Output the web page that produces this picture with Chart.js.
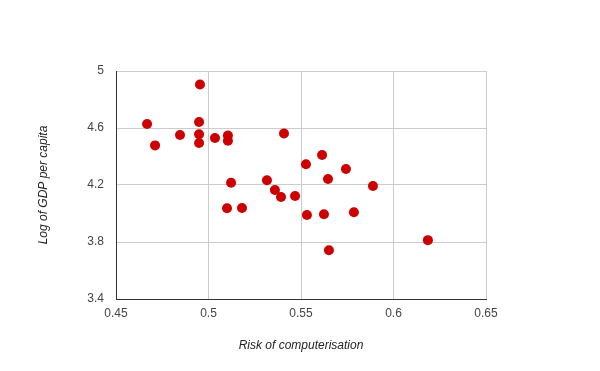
<!DOCTYPE html>
<html>
<head>
<meta charset="utf-8">
<script src="https://cdn.jsdelivr.net/npm/chart.js@4/dist/chart.umd.min.js"></script>
<style>
html,body{margin:0;padding:0;background:#fff;}
#wrap{width:600px;height:371px;}
</style>
</head>
<body>
<div id="wrap"><canvas id="c" width="600" height="371"></canvas></div>
<script>
const riskValues = [0.4668,0.4711,0.4846,0.4949,0.4949,0.4949,0.4954,0.5035,0.5105,0.5105,0.5122,0.5100,0.5181,0.5316,0.5359,0.5392,0.5408,0.5468,0.5527,0.5532,0.5614,0.5624,0.5646,0.5651,0.5743,0.5786,0.5889,0.6186];
const logGdpValues = [4.628,4.478,4.551,4.642,4.556,4.495,4.905,4.530,4.547,4.511,4.216,4.037,4.039,4.233,4.165,4.116,4.562,4.123,4.345,3.989,4.410,3.995,4.242,3.742,4.312,4.009,4.193,3.813];
const xTickLabels = ['0.45','0.5','0.55','0.6','0.65'];
const yTickLabels = ['3.4','3.8','4.2','4.6','5'];
const xTitle = 'Risk of computerisation';
const yTitle = 'Log of GDP per capita';

const points = riskValues.map((x, i) => ({x: x, y: logGdpValues[i]}));

new Chart(document.getElementById('c'), {
  type: 'scatter',
  data: {
    datasets: [{
      data: points,
      backgroundColor: '#cc0000',
      borderColor: '#cc0000',
      borderWidth: 0,
      pointRadius: 5,
      pointHoverRadius: 5
    }]
  },
  options: {
    responsive: false,
    animation: false,
    layout: {padding: {left: 0, right: 114, top: 71, bottom: 0}},
    plugins: {legend: {display: false}, tooltip: {enabled: false}},
    scales: {
      x: {
        type: 'linear',
        min: 0.45, max: 0.65,
        afterFit: s => { s.height = 72; },
        ticks: {
          stepSize: 0.05,
          padding: 7,
          color: '#444',
          font: {family: 'Liberation Sans, Arial', size: 12},
          callback: (v, i) => xTickLabels[i]
        },
        grid: {color: '#cccccc', drawTicks: false, lineWidth: 1},
        border: {color: '#333333', width: 1},
        title: {
          display: true, text: xTitle, color: '#222',
          font: {family: 'Liberation Sans, Arial', size: 12, style: 'italic'},
          padding: {top: 0, bottom: 18}
        }
      },
      y: {
        type: 'linear',
        min: 3.4, max: 5,
        afterFit: s => { s.width = 116; },
        ticks: {
          stepSize: 0.4,
          padding: 12,
          color: '#444',
          font: {family: 'Liberation Sans, Arial', size: 12},
          callback: (v, i) => yTickLabels[i]
        },
        grid: {color: '#cccccc', drawTicks: false, lineWidth: 1},
        border: {color: '#333333', width: 1},
        title: {
          display: true, text: yTitle, color: '#222',
          font: {family: 'Liberation Sans, Arial', size: 12, style: 'italic'},
          padding: {top: 36, bottom: 0}
        }
      }
    }
  }
});
</script>
</body>
</html>
